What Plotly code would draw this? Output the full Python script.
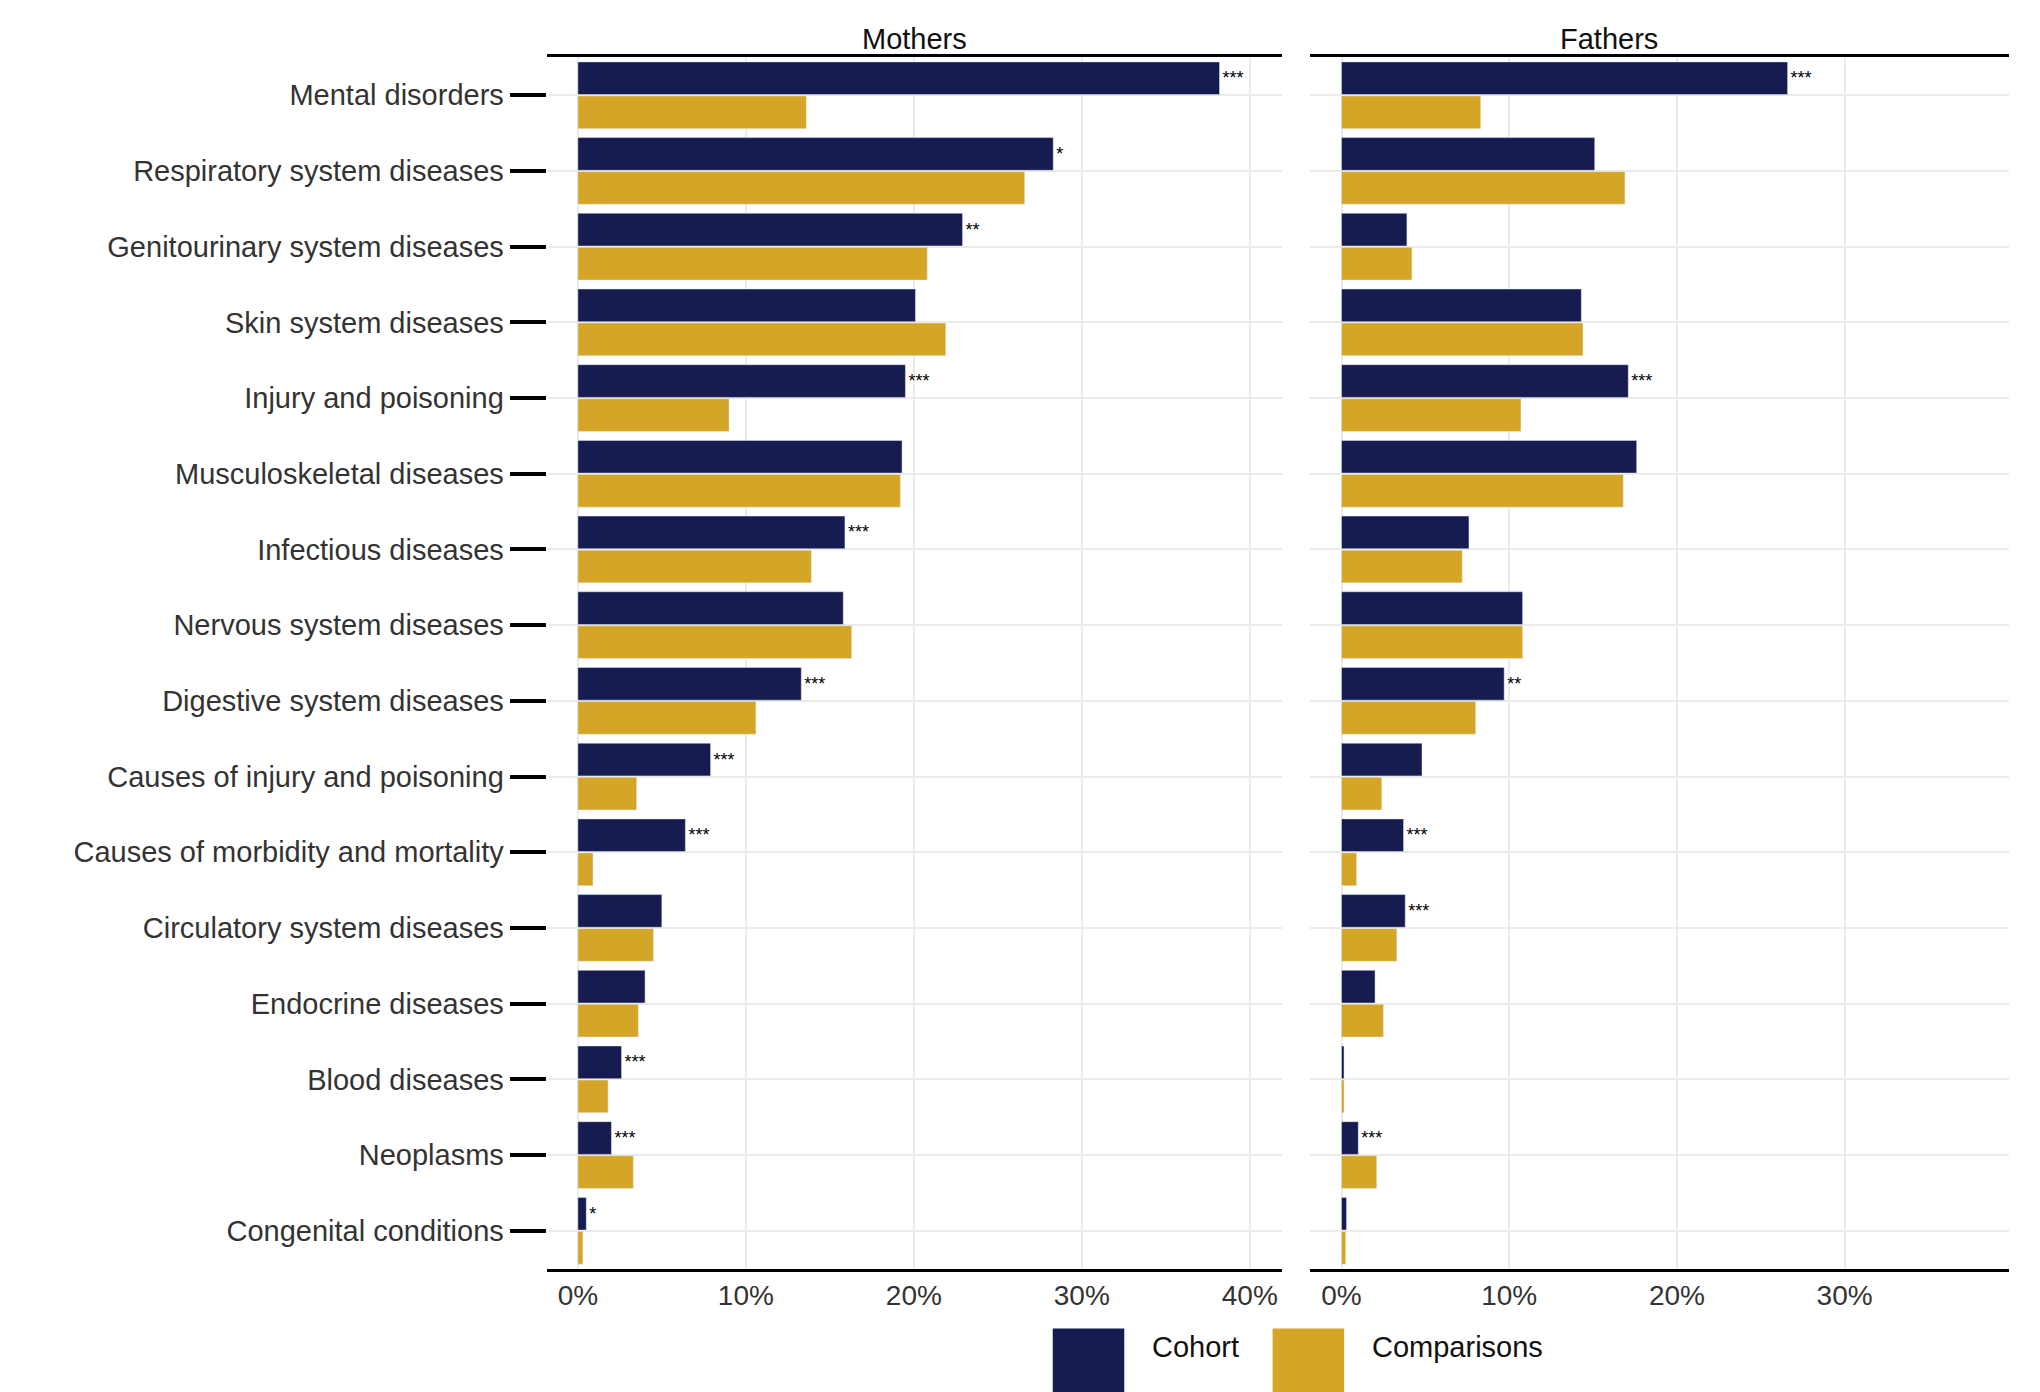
import plotly.graph_objects as go

categories = ["Mental disorders","Respiratory system diseases","Genitourinary system diseases",
  "Skin system diseases","Injury and poisoning","Musculoskeletal diseases","Infectious diseases",
  "Nervous system diseases","Digestive system diseases","Causes of injury and poisoning",
  "Causes of morbidity and mortality","Circulatory system diseases","Endocrine diseases",
  "Blood diseases","Neoplasms","Congenital conditions"]
mothers_cohort = [38.2,28.3,22.9,20.1,19.5,19.3,15.9,15.8,13.3,7.9,6.4,5.0,4.0,2.6,2.0,0.5]
mothers_comp   = [13.6,26.6,20.8,21.9,9.0,19.2,13.9,16.3,10.6,3.5,0.9,4.5,3.6,1.8,3.3,0.3]
mothers_sig    = ["***","*","**","","***","","***","","***","***","***","","","***","***","*"]
fathers_cohort = [26.6,15.1,3.9,14.3,17.1,17.6,7.6,10.8,9.7,4.8,3.7,3.8,2.0,0.15,1.0,0.3]
fathers_comp   = [8.3,16.9,4.2,14.4,10.7,16.8,7.2,10.8,8.0,2.4,0.9,3.3,2.5,0.15,2.1,0.25]
fathers_sig    = ["***","","","","***","","","","**","","***","***","","","***",""]
xticks = [0,10,20,30,40]
xtick_labels = ["0%","10%","20%","30%","40%"]

NAVY = "#161c4f"; GOLD = "#d4a526"
W, H = 1568, 1070
def px(x): return x / W
def py(y): return 1 - y / H

fig = go.Figure()
for i, (coh, comp, sig) in enumerate([(mothers_cohort, mothers_comp, mothers_sig),
                                      (fathers_cohort, fathers_comp, fathers_sig)]):
    xa = "x" if i == 0 else "x2"
    fig.add_trace(go.Bar(y=categories, x=coh, orientation="h", marker_color=NAVY, name="Cohort",
                         text=sig, textposition="outside", cliponaxis=False,
                         textfont=dict(size=18, color="black"), xaxis=xa, yaxis="y", showlegend=False))
    fig.add_trace(go.Bar(y=categories, x=comp, orientation="h", marker_color=GOLD, name="Comparisons",
                         xaxis=xa, yaxis="y", showlegend=False))

axis_common = dict(tickvals=xticks, ticktext=xtick_labels, showgrid=True, gridcolor="#ebebeb",
                   gridwidth=2, zeroline=False, showline=True, mirror=True, linecolor="black",
                   linewidth=3, ticks="", tickfont=dict(size=28, color="#333"), anchor="y")
fig.update_layout(
    width=2040, height=1392, autosize=False,
    margin=dict(l=0, r=0, t=0, b=0),
    paper_bgcolor="white", plot_bgcolor="white",
    barmode="group", bargap=0.1, bargroupgap=0.04,
    font=dict(family="Liberation Sans, Arial", color="#333"),
    xaxis=dict(domain=[px(414), px(979)], range=[-1.86, 41.9], **axis_common),
    xaxis2=dict(domain=[px(1001), px(1538)], range=[-1.86, 39.8], **axis_common),
    yaxis=dict(domain=[py(969), py(38)], categoryorder="array", categoryarray=categories,
               autorange="reversed", showgrid=True, gridcolor="#ebebeb", gridwidth=2,
               ticks="outside", ticklen=36, tickwidth=4, tickcolor="black",
               tickfont=dict(size=29, color="#333"), showline=False),
    yaxis2=dict(overlaying="y", visible=False),
)
# mirrored y grid for fathers panel: use y axis shared (same yaxis) -> fine
fig.add_annotation(x=(px(414)+px(979))/2, y=py(10), xref="paper", yref="paper", text="Mothers",
                   showarrow=False, font=dict(size=29, color="#111"))
fig.add_annotation(x=(px(1001)+px(1538))/2, y=py(10), xref="paper", yref="paper", text="Fathers",
                   showarrow=False, font=dict(size=29, color="#111"))
# legend
for x0, col, lab in [(803, NAVY, "Cohort"), (972, GOLD, "Comparisons")]:
    fig.add_shape(type="rect", xref="paper", yref="paper", x0=px(x0), x1=px(x0+55),
                  y0=py(1070), y1=py(1015), fillcolor=col, line_width=0)
    fig.add_annotation(x=px(x0+75), y=py(1043), xref="paper", yref="paper", text=lab,
                       xanchor="left", showarrow=False, font=dict(size=29, color="#111"))
fig.write_html("out.html")
